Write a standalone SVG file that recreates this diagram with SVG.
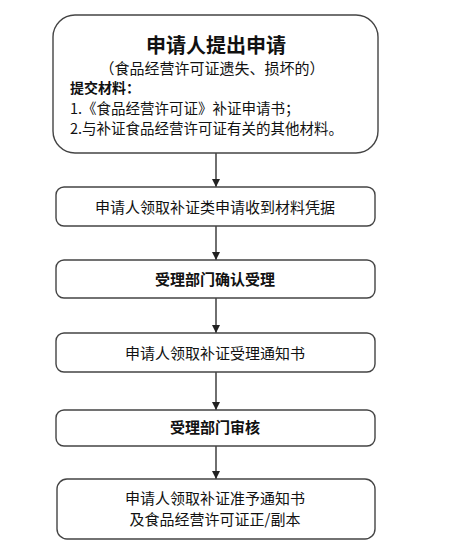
<svg xmlns="http://www.w3.org/2000/svg" width="451" height="545" viewBox="0 0 451 545">
<style>
.box{fill:#fff;stroke:#444;stroke-width:1.4}
.t{font-family:"Noto Sans CJK SC","Noto Sans",sans-serif;fill:#111;font-size:15px}
.c{text-anchor:middle}
.b{font-weight:bold}
.ln{stroke:#222;stroke-width:1.3;fill:none}
</style>
<defs>
<marker id="ah" viewBox="0 0 10 10" refX="10" refY="5" markerWidth="8" markerHeight="8" markerUnits="userSpaceOnUse" orient="auto">
<path d="M0,0 L10,5 L0,10 z" fill="#222"/>
</marker>
</defs>
<rect width="451" height="545" fill="#fff"/>
<g id="connectors">
<line class="ln" x1="216" y1="153" x2="216" y2="187" marker-end="url(#ah)"/>
<line class="ln" x1="216" y1="226" x2="216" y2="260" marker-end="url(#ah)"/>
<line class="ln" x1="216" y1="298" x2="216" y2="333" marker-end="url(#ah)"/>
<line class="ln" x1="216" y1="372" x2="216" y2="410" marker-end="url(#ah)"/>
<line class="ln" x1="216" y1="446" x2="216" y2="479" marker-end="url(#ah)"/>
</g>
<g id="n1">
<rect class="box" x="53" y="15" width="325" height="138" rx="22"/>
<text class="t c b" x="216" y="53" style="font-size:20px">申请人提出申请</text>
<text class="t c" x="212" y="74">（食品经营许可证遗失、损坏的）</text>
<text class="t b" x="70" y="92.5" style="font-size:14px">提交材料：</text>
<text class="t" x="70" y="114" style="font-size:14.5px">1.《食品经营许可证》补证申请书；</text>
<text class="t" x="70" y="134" style="font-size:14.5px">2.与补证食品经营许可证有关的其他材料。</text>
</g>
<g id="n2">
<rect class="box" x="56" y="187" width="319" height="39" rx="8"/>
<text class="t c" x="215" y="213">申请人领取补证类申请收到材料凭据</text>
</g>
<g id="n3">
<rect class="box" x="56" y="260" width="319" height="38" rx="8"/>
<text class="t c b" x="215" y="285">受理部门确认受理</text>
</g>
<g id="n4">
<rect class="box" x="56" y="333" width="319" height="39" rx="8"/>
<text class="t c" x="215" y="359">申请人领取补证受理通知书</text>
</g>
<g id="n5">
<rect class="box" x="56" y="410" width="319" height="36" rx="8"/>
<text class="t c b" x="215" y="433">受理部门审核</text>
</g>
<g id="n6">
<rect class="box" x="57" y="479" width="318" height="60" rx="10"/>
<text class="t c" x="215" y="504">申请人领取补证准予通知书</text>
<text class="t c" x="215" y="525">及食品经营许可证正/副本</text>
</g>
</svg>
